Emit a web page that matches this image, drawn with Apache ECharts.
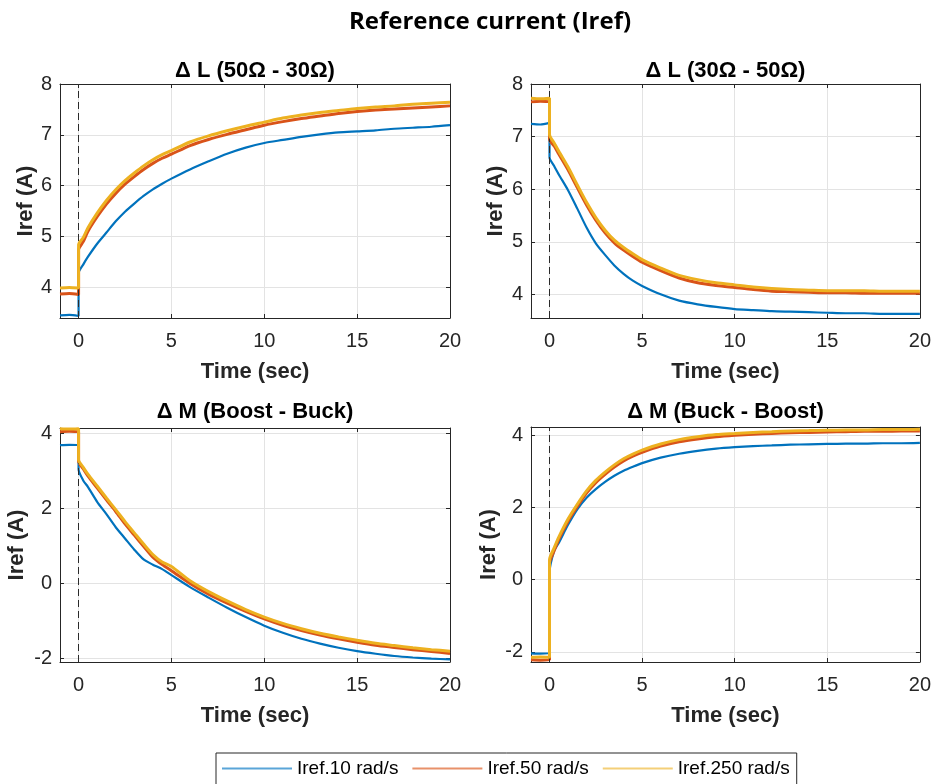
<!DOCTYPE html>
<html>
<head>
<meta charset="utf-8">
<script src="https://cdn.jsdelivr.net/npm/echarts@6/dist/echarts.min.js"></script>
<style>
html,body{margin:0;padding:0;background:#ffffff;}
#chart{width:934px;height:784px;}
</style>
</head>
<body>
<div id="chart"></div>
<script>
// ---------- DATA ----------
const time = [-1, -0.5, 0, 0, 0.25, 0.5, 1, 1.5, 2, 2.5, 3, 3.5, 4, 4.5, 5, 6, 7, 8, 9, 10, 11, 12, 13, 14, 15, 16, 17, 18, 19, 20];
const xTicks = [0, 5, 10, 15, 20];
const seriesNames = ['Iref.10 rad/s', 'Iref.50 rad/s', 'Iref.250 rad/s'];
const panelTitles = ['\u0394 L (50\u03A9 - 30\u03A9)', '\u0394 L (30\u03A9 - 50\u03A9)', '\u0394 M (Boost - Buck)', '\u0394 M (Buck - Boost)'];
const yTicksL = [4, 5, 6, 7, 8];
const yTicksM = [-2, 0, 2, 4];

// Panel 1: ΔL (50Ω - 30Ω)
const dL1_10  = [3.45, 3.46, 3.44, 4.28, 4.45, 4.60, 4.86, 5.08, 5.30, 5.49, 5.65, 5.80, 5.93, 6.04, 6.14, 6.32, 6.48, 6.63, 6.75, 6.84, 6.90, 6.96, 7.01, 7.05, 7.07, 7.09, 7.12, 7.14, 7.16, 7.19];
const dL1_50  = [3.87, 3.88, 3.86, 4.74, 4.90, 5.10, 5.39, 5.64, 5.85, 6.03, 6.18, 6.32, 6.44, 6.54, 6.62, 6.79, 6.91, 7.01, 7.10, 7.19, 7.26, 7.32, 7.37, 7.42, 7.46, 7.49, 7.51, 7.53, 7.55, 7.57];
const dL1_250 = [3.99, 4.00, 3.99, 4.84, 4.98, 5.17, 5.46, 5.71, 5.92, 6.10, 6.25, 6.39, 6.51, 6.61, 6.69, 6.86, 6.98, 7.08, 7.17, 7.25, 7.33, 7.39, 7.44, 7.48, 7.52, 7.55, 7.57, 7.60, 7.62, 7.64];

// Panel 2: ΔL (30Ω - 50Ω)
const dL2_10  = [7.24, 7.23, 7.26, 6.60, 6.44, 6.28, 5.98, 5.63, 5.27, 4.97, 4.75, 4.55, 4.39, 4.26, 4.16, 4.00, 3.88, 3.81, 3.76, 3.72, 3.70, 3.68, 3.67, 3.66, 3.65, 3.64, 3.64, 3.63, 3.63, 3.63];
const dL2_50  = [7.66, 7.67, 7.66, 6.95, 6.82, 6.67, 6.37, 6.03, 5.70, 5.41, 5.17, 4.98, 4.84, 4.72, 4.61, 4.45, 4.31, 4.22, 4.17, 4.13, 4.09, 4.06, 4.05, 4.04, 4.03, 4.03, 4.02, 4.02, 4.02, 4.02];
const dL2_250 = [7.73, 7.72, 7.73, 7.04, 6.88, 6.72, 6.42, 6.08, 5.75, 5.46, 5.22, 5.03, 4.89, 4.77, 4.66, 4.50, 4.36, 4.28, 4.22, 4.18, 4.14, 4.11, 4.09, 4.08, 4.07, 4.07, 4.07, 4.06, 4.06, 4.06];

// Panel 3: ΔM (Boost - Buck)
const dM1_10  = [3.69, 3.70, 3.69, 3.05, 2.75, 2.58, 2.18, 1.85, 1.50, 1.20, 0.90, 0.64, 0.50, 0.38, 0.22, -0.10, -0.38, -0.65, -0.90, -1.13, -1.32, -1.48, -1.61, -1.72, -1.81, -1.88, -1.94, -1.98, -2.01, -2.03];
const dM1_50  = [4.05, 4.06, 4.05, 3.26, 3.06, 2.87, 2.55, 2.23, 1.92, 1.59, 1.29, 0.99, 0.70, 0.50, 0.34, 0.00, -0.29, -0.53, -0.75, -0.95, -1.12, -1.26, -1.38, -1.48, -1.57, -1.65, -1.71, -1.77, -1.82, -1.87];
const dM1_250 = [4.13, 4.12, 4.13, 3.30, 3.10, 2.92, 2.60, 2.28, 1.97, 1.65, 1.35, 1.05, 0.77, 0.57, 0.45, 0.07, -0.22, -0.47, -0.70, -0.90, -1.07, -1.21, -1.33, -1.43, -1.52, -1.60, -1.66, -1.72, -1.77, -1.81];

// Panel 4: ΔM (Buck - Boost)
const dM2_10  = [-2.04, -2.05, -2.04, 0.20, 0.80, 1.02, 1.52, 1.95, 2.27, 2.51, 2.71, 2.88, 3.02, 3.13, 3.23, 3.38, 3.49, 3.57, 3.63, 3.67, 3.70, 3.72, 3.74, 3.75, 3.76, 3.77, 3.77, 3.78, 3.78, 3.79];
const dM2_50  = [-2.22, -2.23, -2.22, 0.45, 0.80, 1.12, 1.62, 2.03, 2.40, 2.69, 2.92, 3.12, 3.29, 3.42, 3.53, 3.70, 3.82, 3.90, 3.96, 4.00, 4.03, 4.05, 4.07, 4.08, 4.09, 4.10, 4.11, 4.11, 4.12, 4.12];
const dM2_250 = [-2.15, -2.14, -2.15, 0.55, 0.88, 1.18, 1.68, 2.09, 2.46, 2.75, 2.98, 3.18, 3.35, 3.48, 3.59, 3.76, 3.88, 3.96, 4.02, 4.05, 4.08, 4.10, 4.12, 4.13, 4.14, 4.15, 4.15, 4.16, 4.16, 4.17];

// ---------- LAYOUT / STYLE ----------
const colors = ['#0072BD', '#D95319', '#EDB120'];
const legendColors = ['#5aa5d8', '#e8916a', '#f4cf78'];
const widths = [2.2, 3, 3];
const axisColor = '#262626';
const FONT = 'Liberation Sans, Arial, sans-serif';

const panels = [
  { title: panelTitles[0], grid: {left: 60, top: 84, width: 390, height: 234}, yMin: 3.4, yMax: 8, yTicks: yTicksL, yNameGap: 23, data: [dL1_10, dL1_50, dL1_250], titleY: 71 },
  { title: panelTitles[1], grid: {left: 531, top: 84, width: 389, height: 234}, yMin: 3.55, yMax: 8, yTicks: yTicksL, yNameGap: 24, data: [dL2_10, dL2_50, dL2_250], titleY: 71 },
  { title: panelTitles[2], grid: {left: 60, top: 428, width: 390, height: 234}, yMin: -2.1, yMax: 4.15, yTicks: yTicksM, yNameGap: 32, data: [dM1_10, dM1_50, dM1_250], titleY: 412 },
  { title: panelTitles[3], grid: {left: 531, top: 427, width: 389, height: 235}, yMin: -2.28, yMax: 4.23, yTicks: yTicksM, yNameGap: 31, data: [dM2_10, dM2_50, dM2_250], titleY: 412 }
];

const grid = [], xAxis = [], yAxis = [], series = [], graphic = [];

graphic.push({
  type: 'text', x: 490, y: 22,
  style: { text: 'Reference current (Iref)', textAlign: 'center', textVerticalAlign: 'middle',
           font: 'bold 24px "Open Sans", "Noto Sans", sans-serif', fill: '#000' }
});

panels.forEach((p, i) => {
  grid.push(Object.assign({ show: false, containLabel: false }, p.grid));
  const cx = p.grid.left + p.grid.width / 2;
  graphic.push({
    type: 'text', x: cx, y: p.titleY,
    style: { text: p.title, textAlign: 'center', textVerticalAlign: 'middle',
             font: 'bold 22px ' + FONT, fill: '#000' }
  });
  const tickStyle = { show: true, inside: true, length: 4, lineStyle: { color: axisColor, width: 1 } };
  xAxis.push({
    gridIndex: i, type: 'value', min: -1, max: 20, position: 'bottom',
    axisLine: { show: true, onZero: false, lineStyle: { color: axisColor, width: 1 } },
    axisTick: Object.assign({ customValues: xTicks }, tickStyle),
    axisLabel: { show: true, customValues: xTicks, fontSize: 20, color: axisColor, margin: 13, fontFamily: FONT },
    splitLine: { show: true, lineStyle: { color: '#e3e3e3', width: 1 } },
    name: 'Time (sec)', nameLocation: 'middle', nameGap: 43,
    nameTextStyle: { fontSize: 22, fontWeight: 'bold', color: axisColor, fontFamily: FONT }
  });
  xAxis.push({
    gridIndex: i, type: 'value', min: -1, max: 20, position: 'top',
    axisLine: { show: true, onZero: false, lineStyle: { color: axisColor, width: 1 } },
    axisTick: Object.assign({ customValues: xTicks }, tickStyle),
    axisLabel: { show: false }, splitLine: { show: false }
  });
  yAxis.push({
    gridIndex: i, type: 'value', min: p.yMin, max: p.yMax, position: 'left',
    axisLine: { show: true, onZero: false, lineStyle: { color: axisColor, width: 1 } },
    axisTick: Object.assign({ customValues: p.yTicks }, tickStyle),
    axisLabel: { show: true, customValues: p.yTicks, fontSize: 20, color: axisColor, margin: 8, fontFamily: FONT },
    splitLine: { show: true, lineStyle: { color: '#e3e3e3', width: 1 } },
    name: 'Iref (A)', nameLocation: 'middle', nameGap: p.yNameGap, nameRotate: 90,
    nameTextStyle: { fontSize: 22, fontWeight: 'bold', color: axisColor, fontFamily: FONT }
  });
  yAxis.push({
    gridIndex: i, type: 'value', min: p.yMin, max: p.yMax, position: 'right',
    axisLine: { show: true, onZero: false, lineStyle: { color: axisColor, width: 1 } },
    axisTick: Object.assign({ customValues: p.yTicks }, tickStyle),
    axisLabel: { show: false }, splitLine: { show: false }
  });
  p.data.forEach((arr, k) => {
    const s = {
      name: seriesNames[k], type: 'line',
      xAxisIndex: 2 * i, yAxisIndex: 2 * i,
      data: time.map((t, j) => [t, arr[j]]),
      symbol: 'none', showSymbol: false, smooth: 0.25,
      color: colors[k],
      itemStyle: { color: colors[k] },
      lineStyle: { color: colors[k], width: widths[k] },
      z: 3 + k, animation: false
    };
    if (k === 0) {
      s.markLine = {
        silent: true, symbol: ['none', 'none'], animation: false,
        label: { show: false },
        lineStyle: { color: '#2a2a2a', type: [7, 4], width: 1 },
        data: [{ xAxis: 0 }]
      };
    }
    series.push(s);
  });
});

const chart = echarts.init(document.getElementById('chart'), null, { renderer: 'canvas' });
chart.setOption({
  animation: false,
  backgroundColor: '#ffffff',
  grid, xAxis, yAxis, series, graphic,
  legend: {
    show: true,
    data: seriesNames.map((n, k) => ({ name: n, icon: 'rect', itemStyle: { color: legendColors[k] } })),
    left: 216, top: 753,
    orient: 'horizontal', itemWidth: 70, itemHeight: 2, itemGap: 14,
    padding: [6, 7, 7, 6],
    borderColor: '#262626', borderWidth: 1, backgroundColor: '#ffffff',
    textStyle: { fontSize: 19, color: '#000', fontFamily: FONT }
  }
});
</script>
</body>
</html>
